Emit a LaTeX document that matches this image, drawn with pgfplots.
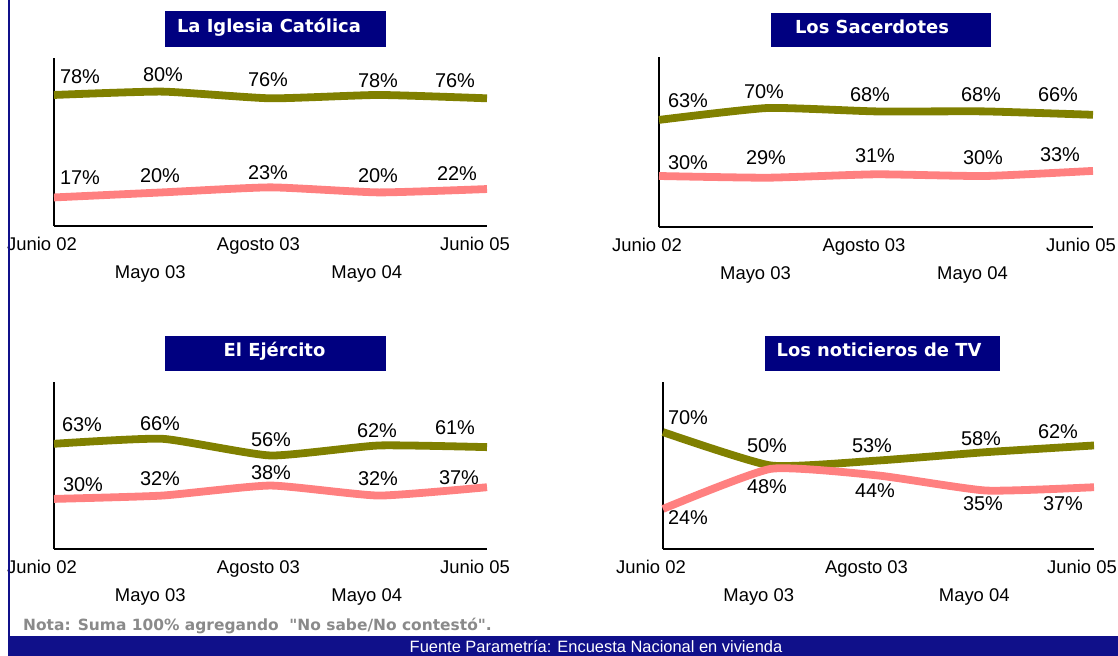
\documentclass[border=0pt]{standalone}
\usepackage{pgfplots}
\pgfplotsset{compat=1.18}
\usepackage{fontspec}
\setmainfont{Liberation Sans}
\newfontfamily\tfont{DejaVu Sans}
\definecolor{navy}{HTML}{000080}
\definecolor{footnavy}{HTML}{10108A}
\definecolor{olivel}{HTML}{808000}
\definecolor{pinkl}{HTML}{FF8080}
\definecolor{notegray}{HTML}{8A8A8A}
\pgfplotsset{panel/.style={
  scale only axis, width=433bp, height=168bp,
  xmin=0, xmax=4, ymin=0, ymax=100,
  axis x line=bottom, axis y line=left,
  axis line style={-, line width=1.2bp, black},
  ytick=\empty, xtick={0,2,4},
  xticklabels={Junio 02, Agosto 03, Junio 05},
  extra x ticks={1,3}, extra x tick labels={Mayo 03, Mayo 04},
  major tick length=0pt,
  ticklabel style={font=\fontsize{18.5}{20}\selectfont},
  xticklabel style={anchor=base, xshift=-12bp, yshift=-24bp},
  extra x tick style={xticklabel style={yshift=-28bp}},
  clip=false,
  every axis plot/.append style={line width=7.8bp, smooth, tension=0.3},
}}
\newcommand{\pl}[3]{\node[font=\fontsize{20}{22}\selectfont, inner sep=0pt] at (#1,#2) {#3\%};}
\begin{document}
\begin{tikzpicture}
\useasboundingbox (0,0) rectangle (1118bp,-656bp);
\fill[white] (0,0) rectangle (1118bp,-656bp);

\begin{axis}[panel, at={(54bp,-226bp)}, anchor=south west]
\addplot[olivel] coordinates {(0,78)(1,80)(2,76)(3,78)(4,76)};
\addplot[pinkl] coordinates {(0,17)(1,20)(2,23)(3,20)(4,22)};
\end{axis}

\begin{axis}[panel, width=434bp, height=170bp, at={(659bp,-227bp)}, anchor=south west]
\addplot[olivel] coordinates {(0,63)(1,70)(2,68)(3,68)(4,66)};
\addplot[pinkl] coordinates {(0,30)(1,29)(2,31)(3,30)(4,33)};
\end{axis}

\begin{axis}[panel, height=167bp, at={(54bp,-549bp)}, anchor=south west]
\addplot[olivel] coordinates {(0,63)(1,66)(2,56)(3,62)(4,61)};
\addplot[pinkl] coordinates {(0,30)(1,32)(2,38)(3,32)(4,37)};
\end{axis}

\begin{axis}[panel, width=431bp, height=167bp, at={(663bp,-549bp)}, anchor=south west]
\addplot[olivel] coordinates {(0,70)(1,50)(2,53)(3,58)(4,62)};
\addplot[pinkl] coordinates {(0,24)(1,48)(2,44)(3,35)(4,37)};
\end{axis}

\begin{scope}[x=1bp, y=-1bp]
% left border and footer
\draw[footnavy, line width=1.6bp] (9,0) -- (9,636);
\fill[footnavy] (8,636) rectangle (1118,656);
\node[anchor=base, text=white, font=\fontsize{16.5}{18}\selectfont, inner sep=0pt] at (596,652) {Fuente Parametría: Encuesta Nacional en vivienda};
\node[anchor=base west, text=notegray, font=\tfont\bfseries\fontsize{15.5}{17}\selectfont, inner sep=0pt] at (23,630) {Nota: Suma 100\% agregando\ \ "No sabe/No contestó".};

% titles
\fill[navy] (165,11) rectangle (386,47);
\node[anchor=base, text=white, font=\tfont\bfseries\fontsize{18}{20}\selectfont, inner sep=0pt] at (269,32) {La Iglesia Católica};
\fill[navy] (771,13) rectangle (991,47);
\node[anchor=base, text=white, font=\tfont\bfseries\fontsize{18}{20}\selectfont, inner sep=0pt] at (872,33) {Los Sacerdotes};
\fill[navy] (165,336) rectangle (386,371);
\node[anchor=base, text=white, font=\tfont\bfseries\fontsize{18}{20}\selectfont, inner sep=0pt] at (274.5,356) {El Ejército};
\fill[navy] (765,336) rectangle (1000,371);
\node[anchor=base, text=white, font=\tfont\bfseries\fontsize{18}{20}\selectfont, inner sep=0pt] at (879,356) {Los noticieros de TV};

% panel 1 labels
\pl{80}{77}{78} \pl{163}{75}{80} \pl{268}{80}{76} \pl{378}{81}{78} \pl{455}{81}{76}
\pl{80}{178}{17} \pl{160}{176}{20} \pl{268}{173}{23} \pl{378}{176}{20} \pl{457}{174}{22}
% panel 2 labels
\pl{688}{101}{63} \pl{764}{92}{70} \pl{870}{95}{68} \pl{981}{95}{68} \pl{1058}{95}{66}
\pl{688}{163}{30} \pl{766}{158}{29} \pl{875}{156}{31} \pl{983}{158}{30} \pl{1060}{155}{33}
% panel 3 labels
\pl{82}{425}{63} \pl{160}{424}{66} \pl{271}{440}{56} \pl{377}{431}{62} \pl{455}{428}{61}
\pl{83}{485}{30} \pl{160}{479}{32} \pl{271}{473}{38} \pl{378}{479}{32} \pl{459}{478}{37}
% panel 4 labels
\pl{688}{418}{70} \pl{767}{446}{50} \pl{872}{446}{53} \pl{981}{439}{58} \pl{1058}{432}{62}
\pl{688}{518}{24} \pl{767}{487}{48} \pl{875}{491}{44} \pl{983}{504}{35} \pl{1063}{504}{37}
\end{scope}
\end{tikzpicture}
\end{document}
